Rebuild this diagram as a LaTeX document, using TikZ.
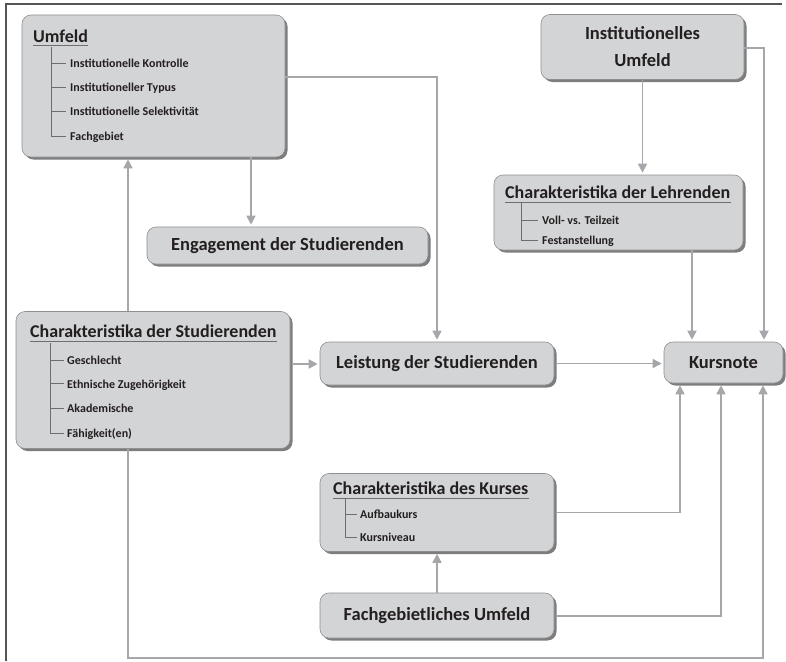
\documentclass[tikz,border=0pt]{standalone}
\usepackage{fontspec}
\setmainfont{Carlito}
\usetikzlibrary{shadows,arrows.meta}
\definecolor{boxfill}{HTML}{D3D4D6}
\definecolor{boxline}{HTML}{8E8F91}
\definecolor{arrowc}{HTML}{A6A7AA}
\definecolor{txt}{HTML}{231F20}
\definecolor{framec}{HTML}{555555}
\definecolor{treec}{HTML}{6E6E70}
\tikzset{
  box/.style={draw=boxline, line width=0.6pt, fill=boxfill, rounded corners=9pt,
    drop shadow={shadow xshift=2.5pt, shadow yshift=-2.5pt, fill=black!60, opacity=0.85},
    inner sep=0pt, text=txt, font=\bfseries\fontsize{18.5}{27}\selectfont, align=center},
  conn/.style={draw=arrowc, line width=1.6pt},
  arr/.style={conn, -{Triangle[length=9pt,width=9pt]}, shorten >=2pt},
  ttl/.style={font=\bfseries\fontsize{18}{20}\selectfont, text=txt, anchor=base west, inner sep=0pt},
  itm/.style={font=\bfseries\fontsize{12}{14}\selectfont, text=txt, anchor=base west, inner sep=0pt},
  uline/.style={draw=treec, line width=1pt},
  tree/.style={draw=treec, line width=0.6pt},
}
\begin{document}
\begin{tikzpicture}[x=1pt, y=-1pt]
\useasboundingbox (0,0) rectangle (786,661);
\draw[framec, line width=1.6pt] (6,661) -- (6,4) -- (782,4);

% boxes
\node[box, minimum width=263pt, minimum height=142pt] (umf) at (153.5,86) {};
\node[box, minimum width=281pt, minimum height=37pt] (eng) at (287.5,245.5) {Engagement der Studierenden};
\node[box, minimum width=203pt, minimum height=65pt] (inst) at (642.5,47) {Institutionelles\\Umfeld};
\node[box, minimum width=249pt, minimum height=75pt] (lehr) at (618.5,212.5) {};
\node[box, minimum width=274pt, minimum height=137pt] (stud) at (153,380) {};
\node[box, minimum width=234pt, minimum height=43pt] (leist) at (437,363.5) {Leistung der Studierenden};
\node[box, minimum width=119pt, minimum height=41pt] (kurs) at (723.5,362.5) {Kursnote};
\node[box, minimum width=234pt, minimum height=78pt] (kurse) at (437,512.5) {};
\node[box, minimum width=234pt, minimum height=45pt] (fach) at (437,615.5) {Fachgebietliches Umfeld};

% Umfeld contents
\node[ttl] (t1) at (33,42) {Umfeld};
\draw[uline] ([yshift=-4pt]t1.base west) -- ([yshift=-4pt]t1.base east);
\node[itm] (u1) at (70,67.5) {Institutionelle Kontrolle};
\node[itm] (u2) at (70,91.5) {Institutioneller Typus};
\node[itm] (u3) at (70,115.5) {Institutionelle Selektivität};
\node[itm] (u4) at (70,140) {Fachgebiet};
\draw[tree] (51,47) -- (51,136) -- (66,136);
\foreach \yy in {63,87,111} \draw[tree] (51,\yy) -- (66,\yy);

% Studierenden contents
\node[ttl] (t2) at (30,337) {Charakteristika der Studierenden};
\draw[uline] ([yshift=-4pt]t2.base west) -- ([yshift=-4pt]t2.base east);
\node[itm] (s1) at (67,364.5) {Geschlecht};
\node[itm] (s2) at (67,388) {Ethnische Zugehörigkeit};
\node[itm] (s3) at (67,412.5) {Akademische};
\node[itm] (s4) at (67,437) {Fähigkeit(en)};
\draw[tree] (50,343) -- (50,433) -- (64,433);
\foreach \yy in {360,383.5,408} \draw[tree] (50,\yy) -- (64,\yy);

% Lehrenden contents
\node[ttl] (t3) at (505,198) {Charakteristika der Lehrenden};
\draw[uline] ([yshift=-4pt]t3.base west) -- ([yshift=-4pt]t3.base east);
\node[itm] (l1) at (542,224.5) {Voll- vs. Teilzeit};
\node[itm] (l2) at (542,244.5) {Festanstellung};
\draw[tree] (521,203) -- (521,240) -- (538,240);
\draw[tree] (521,220) -- (538,220);

% Kurses contents
\node[ttl] (t4) at (333,494) {Charakteristika des Kurses};
\draw[uline] ([yshift=-4pt]t4.base west) -- ([yshift=-4pt]t4.base east);
\node[itm] (k1) at (360,518.5) {Aufbaukurs};
\node[itm] (k2) at (360,541.5) {Kursniveau};
\draw[tree] (345,499) -- (345,537) -- (357,537);
\draw[tree] (345,514) -- (357,514);

% connectors
\coordinate (bl) at (128,658);
\draw[arr] (umf.south -| 251,0) -- (eng.north -| 251,0);
\draw[arr] (umf.east |- 0,77) -| (leist.north);
\draw[arr] (stud.north -| 128,0) -- (umf.south -| 128,0);
\draw[arr] ([xshift=3pt]stud.east |- 0,364) -- (leist.west |- 0,364);
\draw[arr] ([xshift=3pt]leist.east) -- (kurs.west |- leist.east);
\draw[arr] (inst.south) -- (inst.south |- lehr.north);
\draw[arr] (inst.east |- 0,48) -| (kurs.north -| 764,0);
\draw[arr] (lehr.south -| 692,0) -- (kurs.north -| 692,0);
\draw[arr] ([xshift=3pt]kurse.east) -| (kurs.south -| 680,0);
\draw[arr] ([xshift=3pt]fach.east |- 0,616) -| (kurs.south -| 721,0);
\draw[arr] (stud.south -| bl) -- (bl) -| (kurs.south -| 763,0);
\draw[arr] (fach.north) -- (kurse.south);
\end{tikzpicture}
\end{document}
